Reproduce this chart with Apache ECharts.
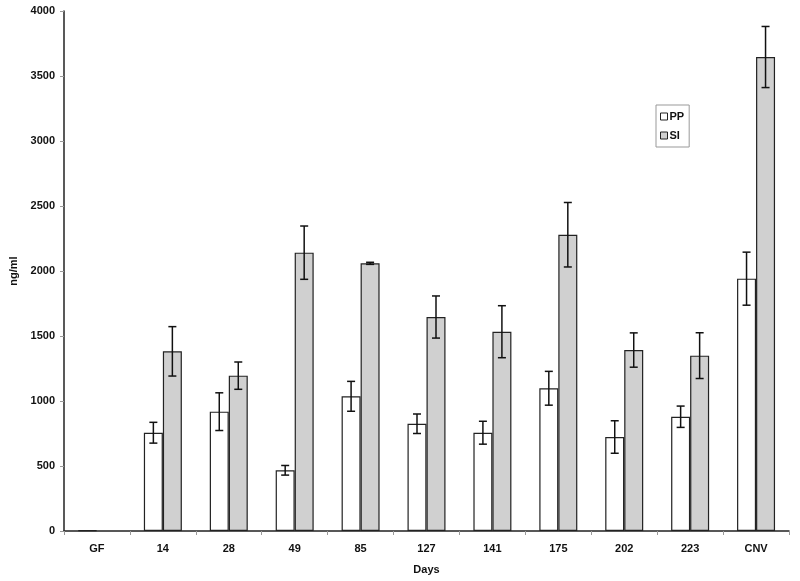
<!DOCTYPE html>
<html><head><meta charset="utf-8">
<script src="https://cdn.jsdelivr.net/npm/echarts@6/dist/echarts.min.js"></script>
<style>html,body{margin:0;padding:0;background:#fff}#c{width:800px;height:581px}</style>
</head><body><div id="c"></div>
<script>
var categories = ['GF','14','28','49','85','127','141','175','202','223','CNV'];
var ppValues = [5, 756, 918, 467, 1036, 825, 756, 1098, 723, 879, 1941];
var ppErrors = [0, 80, 145, 37, 115, 75, 88, 130, 125, 82, 204];
var siValues = [null, 1382, 1195, 2141, 2059, 1646, 1533, 2279, 1392, 1349, 3646];
var siErrors = [null, 190, 105, 205, 8, 162, 200, 248, 132, 176, 235];
var yTicks = [0, 500, 1000, 1500, 2000, 2500, 3000, 3500, 4000];

var FONT = 'Liberation Sans';
var BARW = 19;
var SI_COLOR = '#d0d0d0';

function errData(vals, errs) {
  var out = [];
  for (var i = 0; i < vals.length; i++) {
    if (vals[i] != null && errs[i]) out.push([i, vals[i] - errs[i], vals[i] + errs[i]]);
  }
  return out;
}
function errRender(offset) {
  return function (params, api) {
    var lo = api.coord([api.value(0), api.value(1)]);
    var hi = api.coord([api.value(0), api.value(2)]);
    var x = lo[0] + offset;
    var cap = 4;
    var st = { stroke: '#111', lineWidth: 1.5 };
    return { type: 'group', children: [
      { type: 'line', shape: { x1: x, y1: lo[1], x2: x, y2: hi[1] }, style: st },
      { type: 'line', shape: { x1: x - cap, y1: lo[1], x2: x + cap, y2: lo[1] }, style: st },
      { type: 'line', shape: { x1: x - cap, y1: hi[1], x2: x + cap, y2: hi[1] }, style: st }
    ]};
  };
}

var chart = echarts.init(document.getElementById('c'));
chart.setOption({
  animation: false,
  textStyle: { fontFamily: FONT },
  grid: { left: 63, right: 11, top: 11, bottom: 50 },
  legend: {
    data: [
      { name: 'PP', icon: 'rect', itemStyle: { color: '#fff', borderColor: '#222', borderWidth: 1 } },
      { name: 'SI', icon: 'rect', itemStyle: { color: SI_COLOR, borderColor: '#222', borderWidth: 1 } }
    ],
    orient: 'vertical', left: 656, top: 105,
    itemWidth: 7, itemHeight: 7, itemGap: 8,
    padding: [6, 5, 6, 4],
    borderColor: '#999', borderWidth: 1,
    textStyle: { fontFamily: FONT, fontWeight: 'bold', fontSize: 11, color: '#111', padding: [0, 0, 0, -3] }
  },
  xAxis: {
    type: 'category', data: categories,
    name: 'Days', nameLocation: 'middle', nameGap: 33,
    nameTextStyle: { fontFamily: FONT, fontWeight: 'bold', fontSize: 11, color: '#111', align: 'center' },
    axisLine: { lineStyle: { color: '#222', width: 1.5 } },
    axisTick: { show: true, length: 4, lineStyle: { color: '#999' } },
    axisLabel: { fontFamily: FONT, fontWeight: 'bold', fontSize: 11, color: '#111', margin: 12 }
  },
  yAxis: {
    type: 'value', min: 0, max: 4000, interval: 500,
    name: 'ng/ml', nameLocation: 'middle', nameGap: 45, nameRotate: 90,
    nameTextStyle: { fontFamily: FONT, fontWeight: 'bold', fontSize: 11, color: '#111' },
    axisLine: { show: true, lineStyle: { color: '#222', width: 1.5 } },
    axisTick: { show: true, length: 4, lineStyle: { color: '#999' } },
    splitLine: { show: false },
    axisLabel: {
      fontFamily: FONT, fontWeight: 'bold', fontSize: 11, color: '#111', margin: 9,
      formatter: function (v) { return yTicks.indexOf(v) >= 0 ? String(v) : ''; }
    }
  },
  series: [
    { name: 'PP', type: 'bar', data: ppValues, barWidth: BARW, barGap: '0%',
      itemStyle: { color: '#fff', borderColor: '#222', borderWidth: 1.2 } },
    { name: 'SI', type: 'bar', data: siValues, barWidth: BARW, barGap: '0%',
      itemStyle: { color: SI_COLOR, borderColor: '#222', borderWidth: 1.2 } },
    { name: 'PPerr', type: 'custom', data: errData(ppValues, ppErrors), renderItem: errRender(-BARW / 2), z: 5 },
    { name: 'SIerr', type: 'custom', data: errData(siValues, siErrors), renderItem: errRender(BARW / 2), z: 5 }
  ]
});
</script></body></html>
